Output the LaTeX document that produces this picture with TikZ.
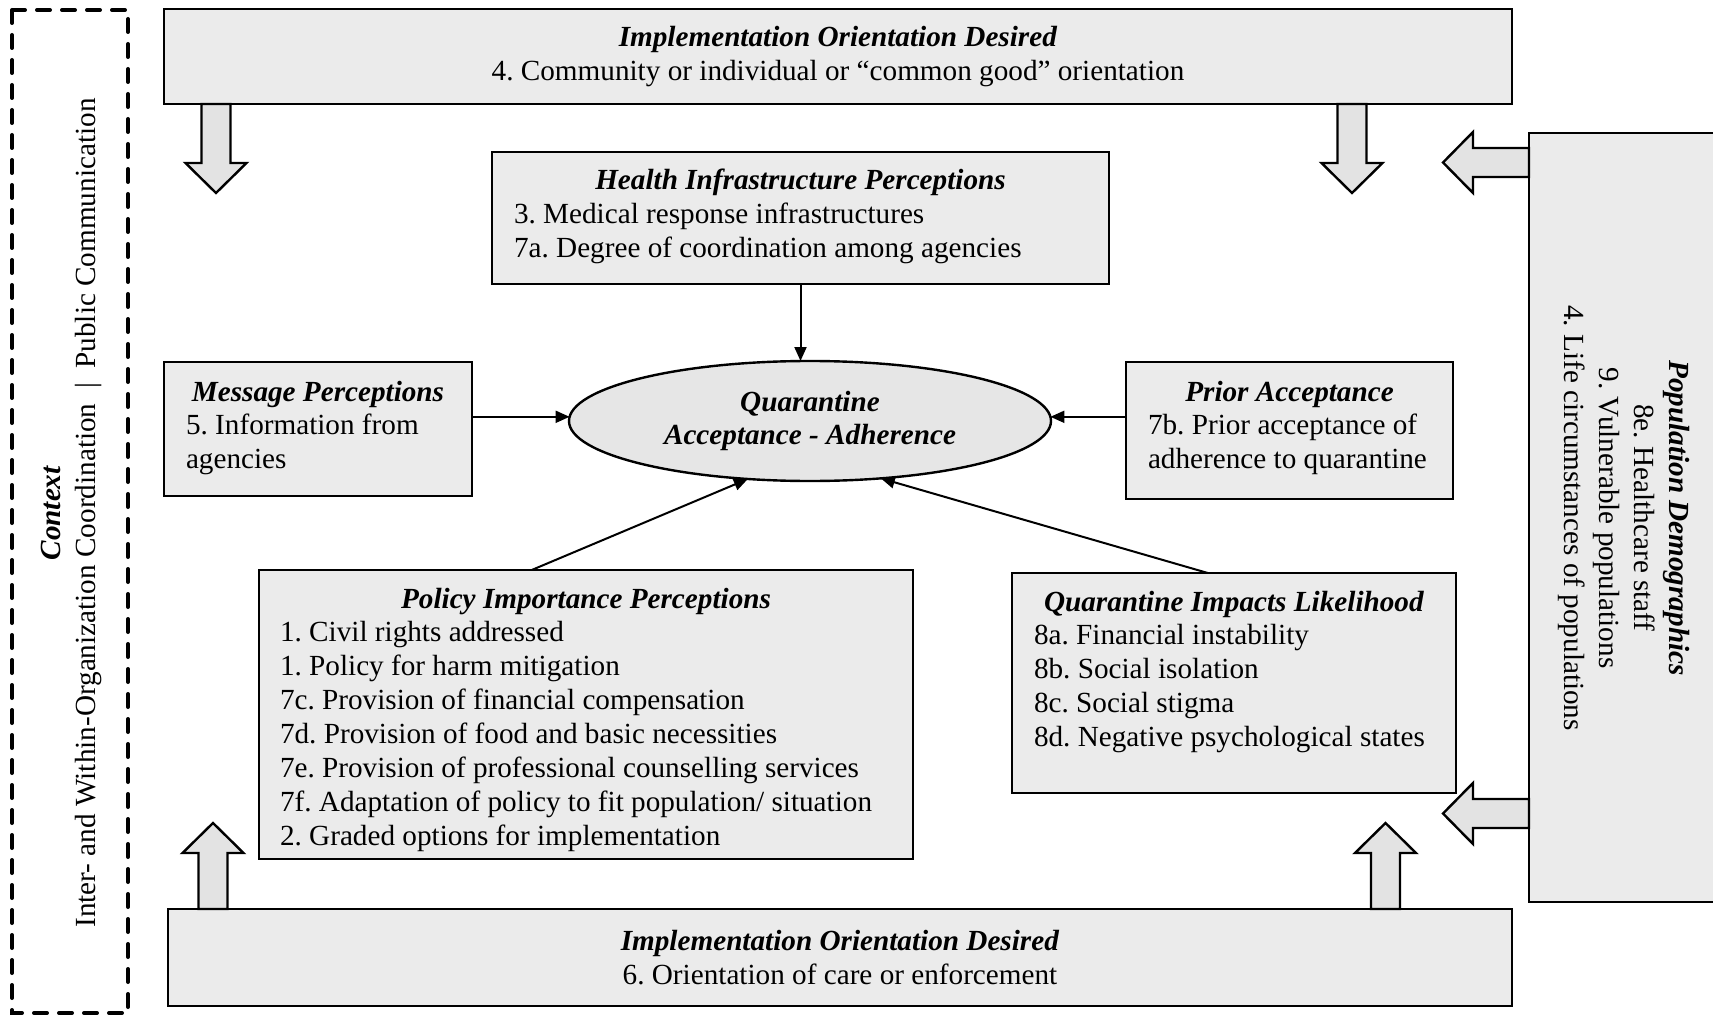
\documentclass[tikz,border=0pt]{standalone}
\usepackage{fontspec}
\setmainfont{Liberation Serif}
\usetikzlibrary{shapes.geometric,arrows.meta,calc}
\definecolor{boxfill}{HTML}{EBEBEB}
\definecolor{arrfill}{HTML}{E3E3E3}
\definecolor{ellfill}{HTML}{E6E6E6}
\newcommand\hdg[1]{\textbf{\textit{#1}}}
\newcommand\hrow[2]{\makebox[#1][c]{\hdg{#2}}\\}
\newcommand\tightsp{\spaceskip=7.3pt plus 1pt minus 1pt\relax}
\begin{document}
\begin{tikzpicture}[x=1pt,y=-1pt,
  every node/.style={font=\fontsize{29.2}{33.7}\selectfont\frenchspacing, inner sep=0pt, outer sep=0pt},
  box/.style={draw, line width=2.6pt, fill=boxfill, rectangle, anchor=north west},
  txt/.style={anchor=base west, align=left, font=\fontsize{29.2}{33.9}\selectfont\frenchspacing, execute at begin node={\tightsp}},
  conn/.style={line width=2pt, -{Triangle[length=14pt,width=12pt]}},
  blk/.style={draw, line width=2.4pt, fill=arrfill, line join=miter},
  rot/.style={align=center, font=\fontsize{29.2}{35}\selectfont\frenchspacing}
]
\useasboundingbox (0,0) rectangle (1713,1016);
\clip (0,0) rectangle (1713,1016);

% context dashed frame
\draw[line width=4pt, dash pattern=on 13pt off 12pt, line cap=round] (12,10) rectangle (128,1013);
\node[rot, rotate=90] (ctx) at (71,513) {\hdg{Context}\\Inter- and Within-Organization Coordination~~|~~Public Communication};

% top and bottom boxes
\node[box, minimum width=1348pt, minimum height=95pt, align=center] (topb) at (164,9)
  {\hdg{Implementation Orientation Desired}\\4. Community or individual or “common good” orientation};
\node[box, minimum width=1344pt, minimum height=97pt, align=center] (botb) at (168,909)
  {\hdg{Implementation Orientation Desired}\\6. Orientation of care or enforcement};

% population box
\node[box, minimum width=240pt, minimum height=769pt] (pop) at (1529,133) {};
\node[rot, rotate=-90] (popt) at (1624,518) {\hdg{Population Demographics}\\8e. Healthcare staff\\9. Vulnerable populations\\4. Life circumstances of populations};

% block arrows
\draw[blk] (201.5,104) -- (201.5,163) -- (185.5,163) -- (216,193) -- (246.5,163) -- (230.5,163) -- (230.5,104) -- cycle;
\draw[blk] (1337.5,104) -- (1337.5,163) -- (1321.5,163) -- (1352,193) -- (1382.5,163) -- (1366.5,163) -- (1366.5,104) -- cycle;
\draw[blk] (198.5,909) -- (198.5,853) -- (182.5,853) -- (213,823) -- (243.5,853) -- (227.5,853) -- (227.5,909) -- cycle;
\draw[blk] (1371,909) -- (1371,853) -- (1355,853) -- (1385.5,823) -- (1416,853) -- (1400,853) -- (1400,909) -- cycle;
\draw[blk] (1529,148) -- (1473,148) -- (1473,132) -- (1443,162.5) -- (1473,193) -- (1473,177) -- (1529,177) -- cycle;
\draw[blk] (1529,799) -- (1473,799) -- (1473,783) -- (1443,813.5) -- (1473,844) -- (1473,828) -- (1529,828) -- cycle;

% inner boxes
\node[box, minimum width=617pt, minimum height=132pt] (hlth) at (492,152) {};
\node[txt, text width=617pt] (hlthtxt) at ($(hlth.north west)+(22,38)$)
  {\hrow{573pt}{Health Infrastructure Perceptions}3. Medical response infrastructures\\7a. Degree of coordination among agencies};

\node[box, minimum width=308pt, minimum height=134pt] (msg) at (164,362) {};
\node[txt, text width=308pt] (msgtxt) at ($(msg.north west)+(22,39)$)
  {\hrow{264pt}{Message Perceptions}5. Information from\\agencies};

\node[box, minimum width=327pt, minimum height=137pt] (prior) at (1126,362) {};
\node[txt, text width=327pt] (priortxt) at ($(prior.north west)+(22,39)$)
  {\hrow{283pt}{Prior Acceptance}7b. Prior acceptance of\\adherence to quarantine};

\node[box, minimum width=654pt, minimum height=289pt] (pol) at (259,570) {};
\node[txt, text width=654pt] (poltxt) at ($(pol.north west)+(21,38)$)
  {\hrow{612pt}{Policy Importance Perceptions}1. Civil rights addressed\\1. Policy for harm mitigation\\7c. Provision of financial compensation\\7d. Provision of food and basic necessities\\7e. Provision of professional counselling services\\7f. Adaptation of policy to fit population/ situation\\2. Graded options for implementation};

\node[box, minimum width=444pt, minimum height=220pt] (imp) at (1012,573) {};
\node[txt, text width=444pt] (imptxt) at ($(imp.north west)+(22,38)$)
  {\hrow{400pt}{Quarantine Impacts Likelihood}8a. Financial instability\\8b. Social isolation\\8c. Social stigma\\8d. Negative psychological states};

% central ellipse
\node[ellipse, draw, line width=2.4pt, fill=ellfill, minimum width=482pt, minimum height=120pt, align=center] (q) at (810,421)
  {\hdg{Quarantine}\\\hdg{Acceptance - Adherence}};

% connectors
\draw[conn] (hlth.south) -- (hlth.south |- q.north);
\draw[conn] (msg.east |- q.179) -- (q.179);
\draw[conn] (prior.west |- q.1) -- (q.1);
\draw[conn] ($(pol.north west)!0.417!(pol.north east)$) -- (q.223);
\draw[conn] ($(imp.north west)!0.441!(imp.north east)$) -- (q.321);
\end{tikzpicture}
\end{document}
